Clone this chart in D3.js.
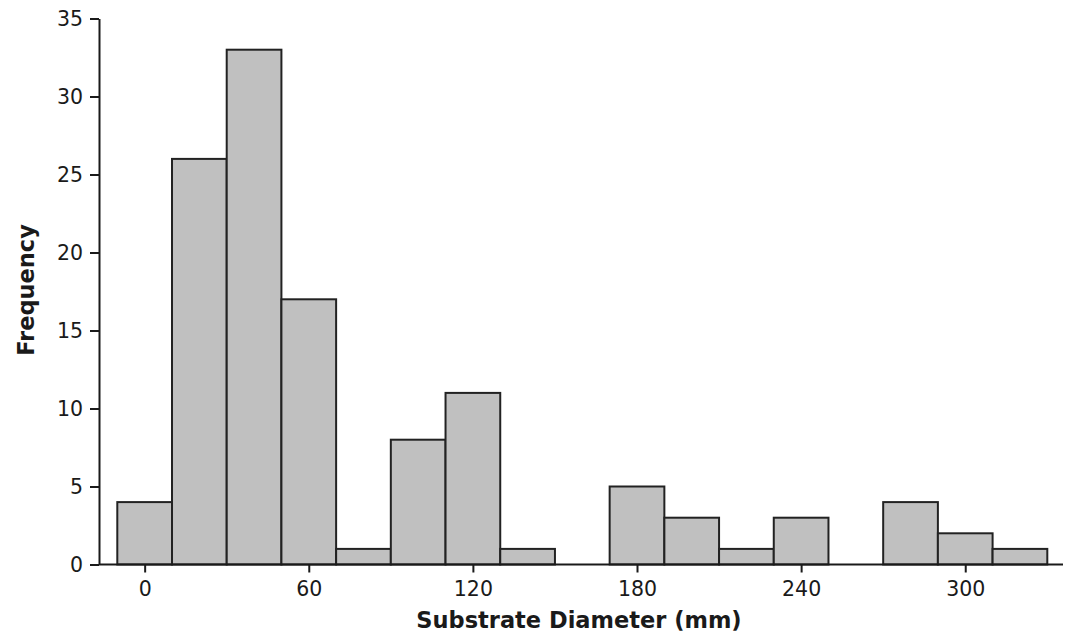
<!DOCTYPE html>
<html><head><meta charset="utf-8">
<script src="https://cdn.jsdelivr.net/npm/d3@7"></script>
<style>body{margin:0;background:#fff;} svg{display:block;}</style>
</head><body>
<script>
const binCenters = [0,20,40,60,80,100,120,140,160,180,200,220,240,260,280,300,320];
const frequencies = [4,26,33,17,1,8,11,1,0,5,3,1,3,0,4,2,1];
const xTicks = [0,60,120,180,240,300];
const yTicks = [0,5,10,15,20,25,30,35];
const binWidth = 20;

const W = 1076, H = 641;
const svg = d3.select("body").append("svg").attr("width", W).attr("height", H);
const x = d3.scaleLinear().domain([-10, 330]).range([117.3, 1047.3]);
const y = d3.scaleLinear().domain([0, 35]).range([564.5, 18.5]);
const font = "DejaVu Sans, Verdana, sans-serif";
const ink = "#1a1a1a";

// bars
svg.append("g").selectAll("rect")
  .data(binCenters.map((c,i)=>({c, v:frequencies[i]})).filter(d=>d.v>0))
  .join("rect")
  .attr("x", d=>x(d.c - binWidth/2))
  .attr("width", d=>x(d.c + binWidth/2) - x(d.c - binWidth/2))
  .attr("y", d=>y(d.v))
  .attr("height", d=>y(0)-y(d.v))
  .attr("fill", "#c0c0c0")
  .attr("stroke", "#222")
  .attr("stroke-width", 2);

// x axis
const xg = svg.append("g").attr("transform", `translate(0,${y(0)})`)
  .call(d3.axisBottom(x).tickValues(xTicks).tickSize(8).tickSizeOuter(0).tickPadding(9));
xg.select(".domain").attr("d", `M99,0H1063`);
// y axis
const yg = svg.append("g").attr("transform", `translate(99,0)`)
  .call(d3.axisLeft(y).tickValues(yTicks).tickSize(9).tickSizeOuter(0).tickPadding(7));
[xg, yg].forEach(g=>{
  g.selectAll("path,line").attr("stroke", ink).attr("stroke-width", 2);
  g.selectAll("text").attr("font-family", font).attr("font-size", 20.5).attr("fill", ink);
});

svg.append("text").attr("x", 579).attr("y", 628).attr("text-anchor","middle")
  .attr("font-family", font).attr("font-weight","bold").attr("font-size", 22.5).attr("fill", ink)
  .text("Substrate Diameter (mm)");
svg.append("text").attr("transform", "translate(34,290) rotate(-90)").attr("text-anchor","middle")
  .attr("font-family", font).attr("font-weight","bold").attr("font-size", 22.5).attr("fill", ink)
  .text("Frequency");
</script>
</body></html>
